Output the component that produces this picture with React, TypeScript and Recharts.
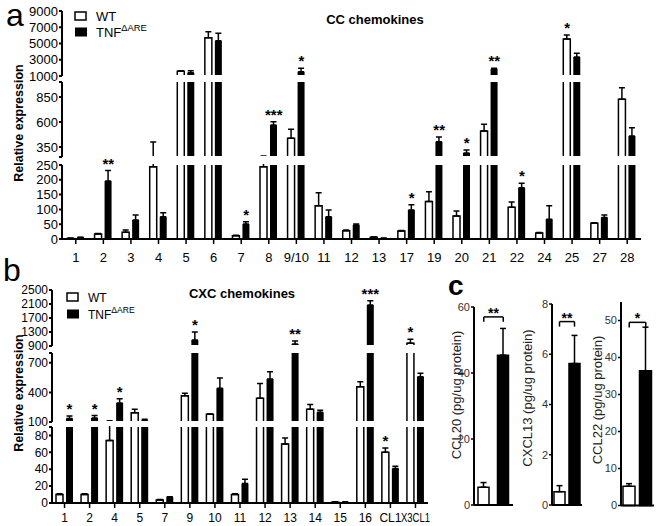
import React from "react";
import {Bar, BarChart, Cell, ErrorBar, ReferenceDot, ReferenceLine, XAxis, YAxis} from "recharts";

const FONT = "'Liberation Sans', Arial, Helvetica, sans-serif";

// panel a - CC chemokines (relative expression, upper end of error bar in *Top)
const ccGenes = ["1", "2", "3", "4", "5", "6", "7", "8", "9/10", "11", "12", "13", "17", "19", "20", "21", "22", "24", "25", "27", "28"];
const ccWt = [2, 17, 23, 244, 1600, 5700, 11, 244, 437, 112, 28, 6, 27, 127, 78, 510, 107, 20, 5550, 53, 827];
const ccWtTop = [3, 19, 30, 400, 1650, 6450, 13, 260, 527, 156, 30, 7, 29, 160, 95, 577, 125, 22, 6050, 55, 943];
const ccTnf = [5, 196, 64, 75, 1400, 5350, 51, 570, 1530, 75, 47, 2, 98, 403, 290, 1850, 173, 67, 3350, 73, 460];
const ccTnfTop = [6, 231, 81, 89, 1650, 6250, 58, 603, 1950, 98, 51, 3, 116, 450, 320, 1950, 188, 112, 3800, 81, 543];
const ccWtSig = ["", "", "", "", "", "", "", "", "", "", "", "", "", "", "", "", "", "", "*", "", ""];
const ccTnfSig = ["", "**", "", "", "", "", "*", "***", "*", "", "", "", "*", "**", "*", "**", "*", "", "", "", ""];

// panel b - CXC chemokines
const cxcGenes = ["1", "2", "4", "5", "7", "9", "10", "11", "12", "13", "14", "15", "16", "CL1", "X3CL1"];
const cxcWt = [10, 10, 74, 195, 3.5, 367, 178, 10, 340, 70, 230, 1, 458, 60, 976];
const cxcWtTop = [11, 11, 113, 230, 4, 391, 182, 11, 490, 77, 277, 1.5, 509, 65, 1090];
const cxcTnf = [135, 140, 294, 114, 6.7, 1070, 442, 23, 537, 957, 198, 1, 2070, 41, 560];
const cxcTnfTop = [160, 165, 337, 128, 7.5, 1300, 547, 28, 611, 1043, 220, 1.5, 2194, 43.5, 594];
const cxcWtSig = ["", "", "", "", "", "", "", "", "", "", "", "", "", "*", "*"];
const cxcTnfSig = ["*", "*", "*", "", "", "*", "", "", "", "**", "", "", "***", "", ""];

// panel c - protein (pg/ug protein)
const proteins = ["CCL20", "CXCL13", "CCL22"];
const proteinWt = [5.4, 0.53, 5.2];
const proteinWtTop = [6.8, 0.77, 5.9];
const proteinTnf = [45.4, 5.63, 36.4];
const proteinTnfTop = [53.5, 6.75, 48.2];
const proteinMax = [60, 8, 55];
const proteinTicks = [[0, 20, 40, 60], [0, 2, 4, 6, 8], [0, 10, 20, 30, 40, 50]];
const proteinSig = ["**", "**", "*"];
const proteinBracket = [57, 7.3, 49.5];

const ccRows = ccGenes.map((g, i) => ({
    g, wt: ccWt[i], tnf: ccTnf[i],
    wtErr: [0, ccWtTop[i] - ccWt[i]], tnfErr: [0, ccTnfTop[i] - ccTnf[i]],
}));
const cxcRows = cxcGenes.map((g, i) => ({
    g, wt: cxcWt[i], tnf: cxcTnf[i],
    wtErr: [0, cxcWtTop[i] - cxcWt[i]], tnfErr: [0, cxcTnfTop[i] - cxcTnf[i]],
}));

const starLabel = (text: string, dx: number) => (props: any) => {
    const {x, y} = props.viewBox;
    return <text x={x + dx} y={y - 2} textAnchor="middle" fontSize={15} fontWeight="bold" fontFamily={FONT} fill="#000">{text}</text>;
};

function stars(genes: string[], wtSig: string[], tnfSig: string[], wtTop: number[], tnfTop: number[]) {
    const out: React.ReactNode[] = [];
    genes.forEach((g, i) => {
        if (wtSig[i]) out.push(<ReferenceDot key={"w" + i} x={g} y={wtTop[i]} r={0} fill="none" stroke="none" label={starLabel(wtSig[i], -5)}/>);
        if (tnfSig[i]) out.push(<ReferenceDot key={"t" + i} x={g} y={tnfTop[i]} r={0} fill="none" stroke="none" label={starLabel(tnfSig[i], 5)}/>);
    });
    return out;
}

// category labels; long ones are squeezed like in the figure
const xTick = (fs: number) => (p: any) => {
    const s = String(p.payload.value);
    const squeeze = s.length > 4 ? {textLength: 29, lengthAdjust: "spacingAndGlyphs"} : {};
    return (
        <text x={p.x} y={p.y} dy="0.71em" textAnchor="middle" fontSize={fs} fontFamily={FONT} fill="#000" {...squeeze}>{s}</text>
    );
};

interface SegProps {
    rows: any[];
    domain: [number, number];
    ticks: number[];
    shown: number[];
    top: number;
    bottom: number;
    plotLeft: number;
    plotRight: number;
    withX?: boolean;
    fs: number;
    xGap: number;
    marks: React.ReactNode[];
}

function Segment({rows, domain, ticks, shown, top, bottom, plotLeft, plotRight, withX, fs, xGap, marks}: SegProps) {
    const M = 12;
    const xh = 30;
    const W = plotRight + 10;
    const h = bottom - top;
    const H = h + M + (withX ? xh : M);
    const L = plotLeft + 1;
    // bars and error bars that run past this piece of the broken axis are cut at its edges
    // (values below the piece collapse onto its lower edge, so that edge is trimmed a little)
    const clip = withX
        ? `polygon(0 0, ${L}px 0, ${L}px ${M - 1}px, ${W}px ${M - 1}px, ${W}px ${H}px, 0 ${H}px)`
        : `polygon(0 0, ${L}px 0, ${L}px ${M - 1}px, ${W}px ${M - 1}px, ${W}px ${M + h - 1}px, ${L}px ${M + h - 1}px, ${L}px ${H}px, 0 ${H}px)`;
    return (
        <>
            <div style={{position: "absolute", left: 0, top: top - M, clipPath: clip}}>
                <BarChart width={W} height={H} data={rows}
                          margin={{top: M, right: 10, bottom: withX ? 0 : M, left: 0}} barSize={7} barGap={3}>
                    <XAxis dataKey="g" hide={!withX} height={xh} interval={0} tickSize={5} tickMargin={xGap}
                           axisLine={{stroke: "#000", strokeWidth: 2}} tickLine={{stroke: "#000", strokeWidth: 1.5}}
                           tick={xTick(fs)}/>
                    <YAxis width={plotLeft} type="number" domain={domain} allowDataOverflow ticks={ticks} interval={0}
                           tickSize={3} tickMargin={1} tickFormatter={(v: number) => (shown.includes(v) ? String(v) : "")}
                           axisLine={{stroke: "#000", strokeWidth: 2}} tickLine={{stroke: "#000", strokeWidth: 2}}
                           tick={{fill: "#000", fontSize: fs, fontFamily: FONT}}/>
                    <Bar dataKey="wt" fill="#fff" stroke="#000" strokeWidth={1.5} isAnimationActive={false}>
                        <ErrorBar dataKey="wtErr" width={3} stroke="#000" strokeWidth={1.5}/>
                    </Bar>
                    <Bar dataKey="tnf" fill="#000" isAnimationActive={false}>
                        <ErrorBar dataKey="tnfErr" width={3} stroke="#000" strokeWidth={1.5}/>
                    </Bar>
                </BarChart>
            </div>
            <div style={{position: "absolute", left: 0, top: top - M}}>
                <BarChart width={W} height={H} data={rows}
                          margin={{top: M, right: 10, bottom: withX ? xh : M, left: plotLeft}}>
                    <XAxis dataKey="g" hide/>
                    <YAxis hide type="number" domain={domain} allowDataOverflow/>
                    {marks}
                </BarChart>
            </div>
        </>
    );
}

const protAxisX = [474, 552, 621];
const protPlotW = [39, 30, 33];
const protTop = [307, 304, 301.5];
const protBarSize = [11, 11, 12];

function ProteinChart({i}: { i: number }) {
    const M = 8;
    const yw = 30;
    const rows = [
        {g: "WT", v: proteinWt[i], err: [0, proteinWtTop[i] - proteinWt[i]]},
        {g: "TNF", v: proteinTnf[i], err: [0, proteinTnfTop[i] - proteinTnf[i]]},
    ];
    const b = proteinBracket[i];
    const d = proteinMax[i] * 0.025;
    const lineProps = {stroke: "#000", strokeWidth: 1.5, ifOverflow: "visible" as const};
    return (
        <div style={{position: "absolute", left: protAxisX[i] - yw, top: protTop[i] - M}}>
            <BarChart width={yw + protPlotW[i] + 2} height={505 - protTop[i] + 2 * M} data={rows}
                      margin={{top: M, right: 2, bottom: M - 1, left: 0}}>
                <XAxis dataKey="g" height={1} tick={false} tickLine={false} axisLine={{stroke: "#000", strokeWidth: 2}}/>
                <YAxis width={yw} type="number" domain={[0, proteinMax[i]]} ticks={proteinTicks[i]} interval={0}
                       tickSize={3} tickMargin={1} axisLine={{stroke: "#000", strokeWidth: 2}}
                       tickLine={{stroke: "#000", strokeWidth: 1.5}} tick={{fill: "#333", fontSize: 11, fontFamily: FONT}}/>
                <Bar dataKey="v" barSize={protBarSize[i]} stroke="#000" strokeWidth={1.5} isAnimationActive={false}>
                    <Cell fill="#fff"/>
                    <Cell fill="#000"/>
                    <ErrorBar dataKey="err" width={3} stroke="#000" strokeWidth={1.5}/>
                </Bar>
                <ReferenceLine segment={[{x: "WT", y: b}, {x: "TNF", y: b}]} {...lineProps}
                               label={(p: any) => (
                                   <text x={p.viewBox.x + p.viewBox.width / 2} y={p.viewBox.y + 1} textAnchor="middle"
                                         fontSize={14} fontWeight="bold" fontFamily={FONT}>{proteinSig[i]}</text>
                               )}/>
                <ReferenceLine segment={[{x: "WT", y: b}, {x: "WT", y: b - d}]} {...lineProps}/>
                <ReferenceLine segment={[{x: "TNF", y: b}, {x: "TNF", y: b - d}]} {...lineProps}/>
            </BarChart>
        </div>
    );
}

function Legend({x, y1, y2, fs}: { x: number; y1: number; y2: number; fs: number }) {
    return (
        <g fontFamily={FONT} fontSize={fs}>
            <rect x={x} y={y1 - 4} width={11} height={8} fill="#fff" stroke="#000" strokeWidth={1.5}/>
            <text x={x + 21} y={y1 + 4.5}>WT</text>
            <rect x={x} y={y2 - 4.5} width={12} height={9} fill="#000"/>
            <text x={x + 21} y={y2 + 4.5}>TNF<tspan fontSize={fs * 0.72} dy={-6}>ΔARE</tspan></text>
        </g>
    );
}

export default function App() {
    const ccMarks = stars(ccGenes, ccWtSig, ccTnfSig, ccWtTop, ccTnfTop);
    const cxcMarks = stars(cxcGenes, cxcWtSig, cxcTnfSig, cxcWtTop, cxcTnfTop);
    const a = {rows: ccRows, plotLeft: 62, plotRight: 641, fs: 13, xGap: 9, marks: ccMarks};
    const b = {rows: cxcRows, plotLeft: 52, plotRight: 428, fs: 12, xGap: 5, marks: cxcMarks};
    return (
        <div style={{position: "absolute", left: 0, top: 0, width: 662, height: 526, background: "#fff", fontFamily: FONT}}>
            <Segment {...a} domain={[1000, 9000]} ticks={[1000, 3000, 5000, 7000, 9000]} shown={[1000, 3000, 5000, 7000, 9000]} top={11} bottom={76}/>
            <Segment {...a} domain={[250, 1000]} ticks={[250, 350, 600, 850, 1000]} shown={[350, 600, 850]} top={82} bottom={157}/>
            <Segment {...a} domain={[0, 250]} ticks={[0, 50, 100, 150, 200, 250]} shown={[0, 50, 100, 150, 200, 250]} top={165} bottom={239} withX/>

            <Segment {...b} domain={[900, 2500]} ticks={[900, 1300, 1700, 2100, 2500]} shown={[900, 1300, 1700, 2100, 2500]} top={290} bottom={346}/>
            <Segment {...b} domain={[100, 800]} ticks={[100, 400, 700, 800]} shown={[100, 400, 700]} top={353} bottom={422}/>
            <Segment {...b} domain={[0, 90]} ticks={[0, 20, 40, 60, 80, 90]} shown={[0, 20, 40, 60, 80]} top={427} bottom={503} withX/>

            {proteins.map((p, i) => <ProteinChart key={p} i={i}/>)}

            <svg width={662} height={526} style={{position: "absolute", left: 0, top: 0, pointerEvents: "none"}} fontFamily={FONT}>
                <text x={6} y={26} fontSize={32}>a</text>
                <text x={3} y={281} fontSize={32}>b</text>
                <text x={448} y={295} fontSize={28} fontWeight="bold">c</text>
                <text x={375} y={24} fontSize={13} fontWeight="bold" textAnchor="middle">CC chemokines</text>
                <text x={242} y={298} fontSize={13} fontWeight="bold" textAnchor="middle">CXC chemokines</text>
                <text transform="translate(23,123) rotate(-90)" fontSize={12.5} fontWeight="bold" textAnchor="middle">Relative expression</text>
                <text transform="translate(23,393) rotate(-90)" fontSize={12.5} fontWeight="bold" textAnchor="middle">Relative expression</text>
                <Legend x={75} y1={16} y2={32} fs={13}/>
                <Legend x={67} y1={297} y2={314} fs={12}/>
                {proteins.map((p, i) => (
                    <text key={p} transform={`translate(${[461, 532, 602][i]},${[395, 398, 400][i]}) rotate(-90)`}
                          fontSize={13} textAnchor="middle" fill="#222">{p} (pg/ug protein)</text>
                ))}
            </svg>
        </div>
    );
}
